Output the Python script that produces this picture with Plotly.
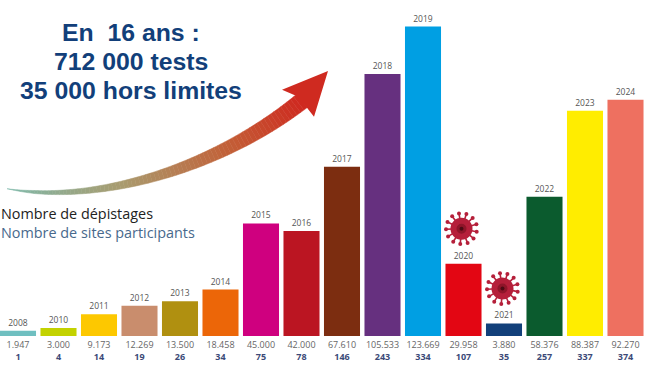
import math
import numpy as np
import plotly.graph_objects as go

years = ["2008","2010","2011","2012","2013","2014","2015","2016","2017","2018","2019","2020","2021","2022","2023","2024"]
tests_labels = ["1.947","3.000","9.173","12.269","13.500","18.458","45.000","42.000","67.610","105.533","123.669","29.958","3.880","58.376","88.387","92.270"]
sites = [1,4,14,19,26,34,75,78,146,243,334,107,35,257,337,374]
# bar heights as drawn in the picture (close to the labels, not always identical)
drawn = [2100,3200,8700,12100,13900,18550,45000,42000,67610,104700,123669,28900,5000,55660,89970,94360]
colors = ["#6fbfc0","#c3d200","#fdc800","#c98d6d","#b09010","#ec6608","#cf007f","#bb1522","#7c2d10","#66307f",
          "#009fe3","#e30613","#12407a","#0b5b2e","#ffed00","#ee7060"]

W, H = 650, 376
BASE = 336.5
def px(x): return x / W
def py(y): return (BASE - y) / BASE

x = list(range(len(years)))
ticktext = [f'<span style="color:#666">{t}</span><br><b><span style="color:#3c4a78">{s}</span></b>'
            for t, s in zip(tests_labels, sites)]

fig = go.Figure(go.Bar(
    x=x, y=drawn, width=0.89, marker=dict(color=colors, line=dict(width=0)),
    text=years, textposition="outside", cliponaxis=False,
    textfont=dict(family="Open Sans", size=8.5, color="#555"), hoverinfo="skip",
))

shapes = []
# gradient arrow: smooth centre line with a tapered width
P0, P1, P2, P3 = map(np.array, [(7.0,189.0),(95.0,205.0),(215.0,170.0),(302.0,101.0)])
tt = np.linspace(0, 1, 81)[:, None]
curve = (1-tt)**3*P0 + 3*(1-tt)**2*tt*P1 + 3*(1-tt)*tt**2*P2 + tt**3*P3
cx, cy = curve[:,0], curve[:,1]
cw = np.interp(tt[:,0], [0,0.1,0.3,0.6,0.85,1], [0,1.5,3,5.5,7.5,8.5])
stops = [(0,(127,185,170)),(0.4,(170,155,110)),(0.75,(195,95,55)),(1,(207,42,32))]
dx = np.gradient(cx); dy = np.gradient(cy); n = np.hypot(dx, dy)
nx, ny = -dy/n, dx/n
def grad(f):
    return "rgb(" + ",".join(str(int(np.interp(f,[s[0] for s in stops],[s[1][i] for s in stops]))) for i in range(3)) + ")"
def poly(pts):
    return "M" + " L".join(f"{px(a):.5f},{py(b):.5f}" for a, b in pts) + " Z"
for i in range(80):
    p = [(cx[i]+nx[i]*cw[i], cy[i]+ny[i]*cw[i]), (cx[i+1]+nx[i+1]*cw[i+1], cy[i+1]+ny[i+1]*cw[i+1]),
         (cx[i+1]-nx[i+1]*cw[i+1], cy[i+1]-ny[i+1]*cw[i+1]), (cx[i]-nx[i]*cw[i], cy[i]-ny[i]*cw[i])]
    c = grad(i/79)
    shapes.append(dict(type="path", xref="paper", yref="paper", path=poly(p), fillcolor=c, line=dict(color=c, width=0.5)))
shapes.append(dict(type="path", xref="paper", yref="paper",
                   path=poly([(328,71),(282,90),(296,96),(307,108),(314,117)]),
                   fillcolor="#cf2a20", line=dict(width=0)))

# virus icons
def circle(xc, yc, r, col):
    return dict(type="circle", xref="paper", yref="paper", x0=px(xc-r), x1=px(xc+r), y0=py(yc+r), y1=py(yc-r),
                fillcolor=col, line=dict(width=0))
def virus(xc, yc):
    col = "#b51f3a"
    for k in range(13):
        a = 2*math.pi*k/13 + 0.2
        shapes.append(dict(type="line", xref="paper", yref="paper",
                           x0=px(xc), y0=py(yc), x1=px(xc+15.5*math.cos(a)), y1=py(yc+15.5*math.sin(a)),
                           line=dict(color=col, width=1.6)))
        shapes.append(circle(xc+15.5*math.cos(a), yc+15.5*math.sin(a), 2, col))
    shapes.append(circle(xc, yc, 11, col))
    shapes.append(circle(xc, yc, 5, "#8f1529"))
    shapes.append(circle(xc, yc, 2, "#4d0a14"))
virus(461.5, 229)
virus(502.5, 289)

ann = []
for s, yy in [("En  16 ans :", 33), ("712 000 tests", 62), ("35 000 hors limites", 91)]:
    ann.append(dict(text=f"<b>{s}</b>", xref="paper", yref="paper", x=px(131), y=py(yy), xanchor="center", yanchor="middle",
                    showarrow=False, font=dict(family="Liberation Sans", size=24.8, color="#123f7a")))
ann.append(dict(text="Nombre de dépistages", xref="paper", yref="paper", x=0, y=py(214), xanchor="left", yanchor="middle",
                showarrow=False, xshift=-1, font=dict(family="Open Sans", size=14.4, color="#222")))
ann.append(dict(text="Nombre de sites participants", xref="paper", yref="paper", x=0, y=py(232.5), xanchor="left", yanchor="middle",
                showarrow=False, xshift=-1, font=dict(family="Open Sans", size=14.4, color="#48698c")))

fig.update_layout(
    width=W, height=H, margin=dict(l=0, r=0, t=0, b=H-BASE, pad=0), paper_bgcolor="white", plot_bgcolor="white",
    showlegend=False, shapes=shapes, annotations=ann,
    xaxis=dict(range=[-18/40.5, (W-18)/40.5], tickmode="array", tickvals=x, ticktext=ticktext, showgrid=False,
               zeroline=False, showline=False, ticks="", tickangle=0, ticklabelstandoff=2,
               tickfont=dict(family="Open Sans", size=9, color="#555")),
    yaxis=dict(range=[0, BASE*399], visible=False, showgrid=False, zeroline=False),
)
fig.write_html("out.html", config={"displayModeBar": False},
               post_script="document.body.style.margin='0';document.body.style.overflow='hidden';")
